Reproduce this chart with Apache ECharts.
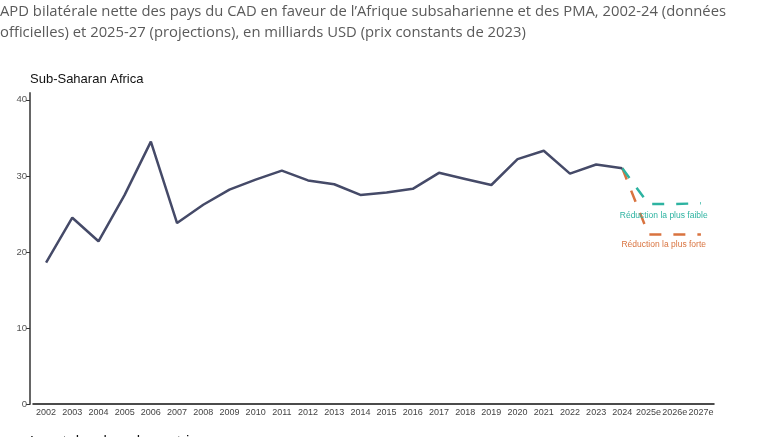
<!DOCTYPE html>
<html>
<head>
<meta charset="utf-8">
<script src="https://cdn.jsdelivr.net/npm/echarts@6/dist/echarts.min.js"></script>
<style>
  html, body { margin: 0; padding: 0; background: #fff; }
  #chart { width: 767px; height: 437px; }
</style>
</head>
<body>
<div id="chart"></div>
<script>
let years = ['2002', '2003', '2004', '2005', '2006', '2007', '2008', '2009', '2010', '2011', '2012', '2013',
    '2014', '2015', '2016', '2017', '2018', '2019', '2020', '2021', '2022', '2023', '2024', '2025e', '2026e', '2027e'];
// données officielles 2002-2024
let officiel = [18.6, 24.5, 21.4, 27.5, 34.5, 23.8, 26.2, 28.2, 29.5, 30.7, 29.4, 28.9,
    27.5, 27.8, 28.3, 30.4, 29.6, 28.8, 32.2, 33.3, 30.3, 31.5, 31.0, null, null, null];
// projections 2025-27
let reductionFaible = [null, null, null, null, null, null, null, null, null, null, null, null,
    null, null, null, null, null, null, null, null, null, null, 31.0, 26.3, 26.3, 26.4];
let reductionForte = [null, null, null, null, null, null, null, null, null, null, null, null,
    null, null, null, null, null, null, null, null, null, null, 31.0, 22.3, 22.3, 22.3];
let yTicks = [0, 10, 20, 30, 40];

let myChart = echarts.init(document.getElementById('chart'));

// étiquette posée sous le point 2026e
function etiquette(texte, valeur, couleur, ecart) {
    return {
        symbol: 'circle',
        symbolSize: 1,
        silent: true,
        itemStyle: { color: 'rgba(0,0,0,0)' },
        label: {
            show: true,
            position: 'bottom',
            distance: ecart,
            offset: [-11, 0],
            fontSize: 8.5,
            fontFamily: 'Liberation Sans',
            color: couleur,
            formatter: texte
        },
        data: [{ coord: ['2026e', valeur] }]
    };
}

let option = {
    animation: false,
    title: {
        text: "APD bilatérale nette des pays du CAD en faveur de l’Afrique subsaharienne et des PMA, 2002-24 (données\nofficielles) et 2025-27 (projections), en milliards USD (prix constants de 2023)",
        left: 0,
        top: 1,
        padding: 0,
        textStyle: {
            fontFamily: 'Open Sans',
            fontSize: 14.8,
            fontWeight: 'normal',
            color: '#5a5a5a',
            lineHeight: 21
        }
    },
    graphic: [
        {
            type: 'text',
            left: 30,
            top: 73,
            style: { text: 'Sub-Saharan Africa', font: '13px "Liberation Sans"', fill: '#111' }
        },
        {
            type: 'text',
            left: 30,
            top: 434,
            style: { text: 'Least developed countries', font: '15px "Liberation Sans"', fill: '#111' }
        }
    ],
    grid: {
        left: 33,
        right: 53,
        top: 93,
        bottom: 33
    },
    xAxis: {
        type: 'category',
        data: years,
        boundaryGap: true,
        axisLine: { lineStyle: { color: '#111', width: 1.5 } },
        axisTick: { alignWithLabel: true, length: 4, lineStyle: { color: '#333' } },
        axisLabel: { color: '#444', fontSize: 9, fontFamily: 'Liberation Sans', margin: 4, interval: 0 },
        splitLine: { show: false }
    },
    yAxis: {
        type: 'value',
        min: 0,
        max: 40.9,
        interval: 10,
        offset: 3,
        axisLine: { show: true, lineStyle: { color: '#666', width: 2 } },
        axisTick: { show: true, length: 4, lineStyle: { color: '#333' } },
        axisLabel: {
            color: '#555', fontSize: 9.5, fontFamily: 'Liberation Sans', margin: 3,
            showMaxLabel: false,
            formatter: function (v) { return yTicks.indexOf(v) >= 0 ? v : ''; }
        },
        splitLine: { show: false }
    },
    series: [
        {
            name: 'Réduction la plus faible',
            type: 'line',
            data: reductionFaible,
            symbol: 'none',
            lineStyle: { color: '#2db3a1', width: 2.5, type: [12, 12] },
            markPoint: etiquette('Réduction la plus faible', reductionFaible[24], '#2db3a1', 7),
            z: 3
        },
        {
            name: 'Réduction la plus forte',
            type: 'line',
            data: reductionForte,
            symbol: 'none',
            lineStyle: { color: '#d9733f', width: 2.5, type: [12, 12] },
            markPoint: etiquette('Réduction la plus forte', reductionForte[24], '#d9733f', 5),
            z: 2
        },
        {
            name: 'Sub-Saharan Africa',
            type: 'line',
            data: officiel,
            symbol: 'none',
            lineStyle: { color: '#454a68', width: 2.5 },
            z: 4
        }
    ]
};
myChart.setOption(option);
</script>
</body>
</html>
